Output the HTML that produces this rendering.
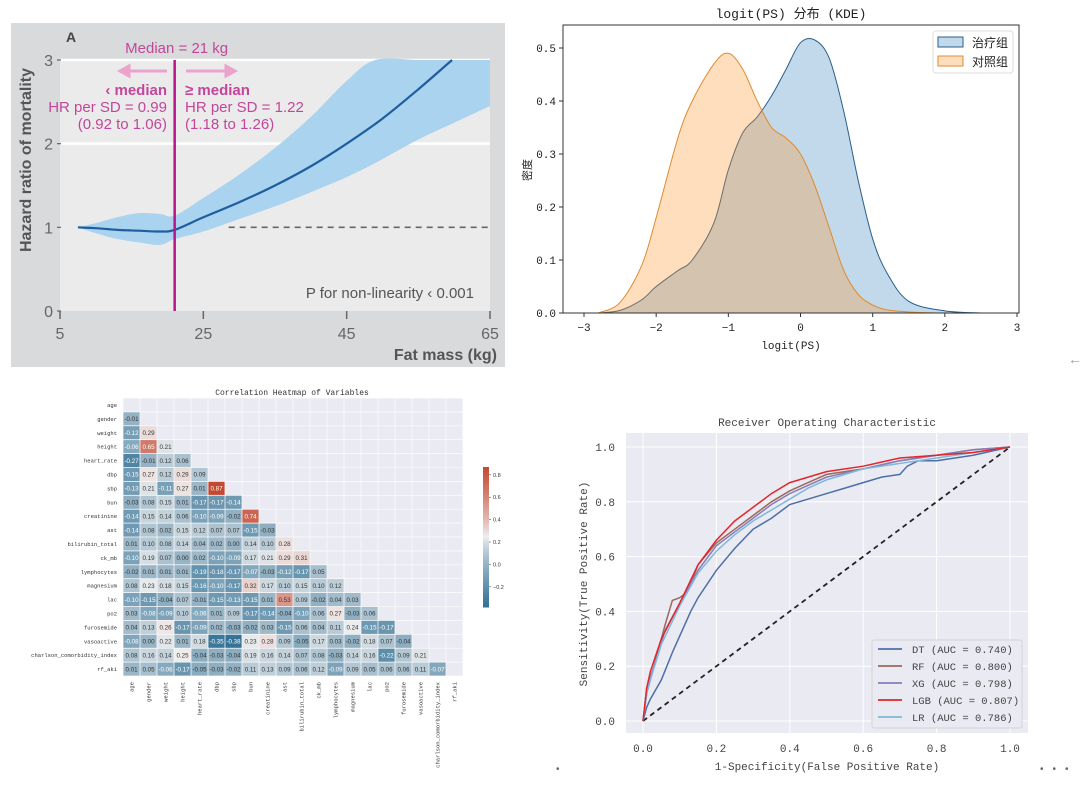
<!DOCTYPE html>
<html><head><meta charset="utf-8"><style>
body{margin:0;background:#fff;}
svg{display:block;font-family:"Liberation Sans","Noto Sans CJK SC",sans-serif;}
</style></head><body>
<svg id="root" width="1080" height="788" viewBox="0 0 1080 788">
<rect width="1080" height="788" fill="#fff"/>
<g id="pA"></g>
<g id="pB"></g>
<g id="pC"></g>
<g id="pD"></g>
<text x="1068" y="364" font-size="14" fill="#999">←</text>
<text x="556" y="772" font-size="10" fill="#666">•</text>
<text x="1040" y="772" font-size="10" fill="#666" letter-spacing="9">•••</text>
</svg>
<script>
// ---------- Panel A data ----------
const fatX = [7.5, 10, 13, 16, 19, 21, 25, 30, 35, 40, 45, 50, 55, 59.7];
const fatHR = [1.0, 0.99, 0.97, 0.96, 0.95, 0.97, 1.12, 1.3, 1.5, 1.73, 2.0, 2.3, 2.65, 3.0];
const ciX = [7.5, 10, 13, 16, 19, 21, 25, 30, 35, 40, 45, 49, 55, 60, 65];
const ciUpper = [1.0, 1.05, 1.12, 1.17, 1.16, 1.14, 1.35, 1.63, 1.95, 2.32, 2.75, 3.0, 3.0, 3.0, 3.0];
const ciLower = [1.0, 0.93, 0.86, 0.82, 0.79, 0.86, 0.95, 1.1, 1.25, 1.42, 1.6, 1.77, 2.05, 2.25, 2.45];
const aXTicks = [5, 25, 45, 65];
const aYTicks = [0, 1, 2, 3];

// ---------- KDE data ----------
const kdeX = [-2.8,-2.5,-2.2,-2.0,-1.7,-1.5,-1.2,-1.0,-0.8,-0.6,-0.4,-0.2,0.0,0.2,0.4,0.6,0.8,1.0,1.2,1.5,2.0,2.5];
const treatY = [0,0.005,0.025,0.05,0.08,0.1,0.17,0.27,0.34,0.37,0.41,0.46,0.51,0.515,0.48,0.38,0.25,0.14,0.075,0.022,0.004,0];
const ctrlY = [0,0.02,0.09,0.18,0.33,0.4,0.47,0.49,0.46,0.4,0.35,0.33,0.3,0.24,0.16,0.08,0.035,0.015,0.006,0.002,0,0];
const kdeXTicks = [-3,-2,-1,0,1,2,3];
const kdeYTicks = [0,0.1,0.2,0.3,0.4,0.5];

// ---------- Heatmap data ----------
const vars = ["age","gender","weight","height","heart_rate","dbp","sbp","bun","creatinine","ast","bilirubin_total","ck_mb","lymphocytes","magnesium","lac","po2","furosemide","vasoactive","charlson_comorbidity_index","rf_aki"];
const corr = [
[],
[-0.01],
[-0.12,0.29],
[-0.06,0.65,0.21],
[-0.27,-0.01,0.12,0.06],
[-0.15,0.27,0.12,0.29,0.09],
[-0.13,0.21,-0.11,0.27,0.01,0.87],
[-0.03,0.08,0.15,0.01,-0.17,-0.17,-0.14],
[-0.14,0.15,0.14,0.06,-0.10,-0.09,-0.02,0.74],
[-0.14,0.08,0.02,0.15,0.12,0.07,0.07,-0.15,-0.03],
[0.01,0.10,0.08,0.14,0.04,0.02,0.00,0.14,0.10,0.28],
[-0.10,0.19,0.07,-0.00,0.02,-0.10,-0.09,0.17,0.21,0.29,0.31],
[-0.02,0.01,0.01,0.01,-0.19,-0.18,-0.17,-0.07,-0.03,-0.12,-0.17,0.05],
[0.08,0.23,0.18,0.15,-0.16,-0.10,-0.17,0.32,0.17,0.10,0.15,0.10,0.12],
[-0.10,-0.15,-0.04,0.07,-0.01,-0.15,-0.13,-0.15,0.01,0.53,0.09,-0.02,0.04,0.03],
[0.03,-0.08,-0.09,0.10,-0.06,0.01,0.09,-0.17,-0.14,-0.04,-0.10,0.06,0.27,-0.03,0.06],
[0.04,0.13,0.26,-0.17,-0.09,0.02,-0.03,-0.02,0.03,-0.15,0.06,0.04,0.11,0.24,-0.15,-0.17],
[-0.08,0.00,0.22,0.01,0.18,-0.35,-0.38,0.23,0.28,0.09,-0.05,0.17,0.03,-0.02,0.18,0.07,-0.04],
[0.08,0.16,0.14,0.25,-0.04,-0.03,-0.04,0.19,0.16,0.14,0.07,0.08,-0.03,0.14,0.16,-0.22,0.09,0.21],
[0.01,0.05,-0.06,-0.17,-0.05,-0.03,-0.02,0.11,0.13,0.09,0.06,0.12,-0.09,0.09,0.05,0.06,0.06,0.11,-0.07]
];
const cbTicks = [0.8,0.6,0.4,0.2,0.0,-0.2];

// ---------- ROC data ----------
const rocNames = ["DT","RF","XG","LGB","LR"];
const rocAUC = ["0.740","0.800","0.798","0.807","0.786"];
const dtFPR = [0,0.01,0.02,0.05,0.08,0.1,0.13,0.15,0.2,0.25,0.3,0.35,0.4,0.45,0.5,0.55,0.6,0.65,0.7,0.72,0.75,0.8,0.9,1];
const dtTPR = [0,0.05,0.08,0.15,0.25,0.31,0.4,0.45,0.55,0.63,0.7,0.74,0.79,0.81,0.83,0.85,0.87,0.89,0.9,0.93,0.95,0.95,0.97,1];
const rfFPR = [0,0.01,0.02,0.03,0.06,0.08,0.1,0.12,0.15,0.2,0.25,0.3,0.35,0.4,0.45,0.5,0.6,0.7,0.8,0.9,1];
const rfTPR = [0,0.1,0.15,0.2,0.35,0.44,0.45,0.47,0.57,0.65,0.7,0.75,0.8,0.84,0.87,0.9,0.92,0.95,0.97,0.99,1];
const xgFPR = [0,0.01,0.03,0.06,0.1,0.15,0.2,0.25,0.3,0.35,0.4,0.45,0.5,0.6,0.7,0.8,0.9,1];
const xgTPR = [0,0.12,0.2,0.33,0.43,0.55,0.64,0.69,0.74,0.79,0.83,0.86,0.89,0.92,0.95,0.97,0.99,1];
const lgbFPR = [0,0.01,0.02,0.05,0.1,0.15,0.2,0.25,0.3,0.35,0.4,0.45,0.5,0.6,0.7,0.8,0.9,1];
const lgbTPR = [0,0.12,0.18,0.3,0.43,0.57,0.66,0.73,0.78,0.83,0.87,0.89,0.91,0.93,0.96,0.97,0.98,1];
const lrFPR = [0,0.01,0.02,0.05,0.1,0.15,0.2,0.25,0.3,0.35,0.4,0.45,0.5,0.6,0.7,0.8,0.9,1];
const lrTPR = [0,0.1,0.15,0.28,0.42,0.54,0.62,0.68,0.73,0.77,0.81,0.85,0.88,0.92,0.94,0.96,0.98,1];
const rocTicks = [0,0.2,0.4,0.6,0.8,1.0];

const NS="http://www.w3.org/2000/svg";
function mk(parent, tag, attrs, text){
  const e=document.createElementNS(NS,tag);
  for(const k in attrs) e.setAttribute(k,attrs[k]);
  if(text!==undefined) e.textContent=text;
  parent.appendChild(e); return e;
}
// Catmull-Rom smooth path through points (no leading M)
function smooth(pts){
  let d='';
  for(let i=0;i<pts.length-1;i++){
    const p0=pts[Math.max(0,i-1)],p1=pts[i],p2=pts[i+1],p3=pts[Math.min(pts.length-1,i+2)];
    const c1=[p1[0]+(p2[0]-p0[0])/6,p1[1]+(p2[1]-p0[1])/6];
    const c2=[p2[0]-(p3[0]-p1[0])/6,p2[1]-(p3[1]-p1[1])/6];
    d+=' C'+c1[0]+','+c1[1]+' '+c2[0]+','+c2[1]+' '+p2[0]+','+p2[1];
  }
  return d;
}

// ================= Panel A =================
(function(){
  const g=document.getElementById('pA');
  const X0=60,X1=490,Y0=311,Y1=60;
  const sx=v=>X0+(v-5)/60*(X1-X0);
  const sy=v=>Y0-(v/3)*(Y0-Y1);
  let e=mk(g,'rect',{x:11,y:23,width:494,height:344,fill:'#d9dadb'});
   
  e=mk(g,'rect',{x:X0,y:Y1,width:X1-X0,height:Y0-Y1,fill:'#ebebeb'});
   
  aYTicks.forEach(t=>{
    if(t>=2){ e=mk(g,'line',{x1:X0,x2:X1,y1:sy(t),y2:sy(t),stroke:'#fff','stroke-width':2.5});
       }
    e=mk(g,'text',{x:X0-7,y:sy(t)+6,'font-size':16,fill:'#666','text-anchor':'end'},String(t));
     
    mk(g,'line',{x1:X0-3,x2:X0+1,y1:sy(t),y2:sy(t),stroke:'#666','stroke-width':1.2});
  });
  aXTicks.forEach(t=>{
    e=mk(g,'line',{x1:sx(t),x2:sx(t),y1:Y0,y2:Y0+8,stroke:'#666','stroke-width':1.5});
     
    e=mk(g,'text',{x:sx(t),y:Y0+28,'font-size':16,fill:'#666','text-anchor':'middle'},String(t));
     
  });
  const up=ciX.map((x,i)=>[sx(x),sy(ciUpper[i])]);
  const lo=ciX.map((x,i)=>[sx(x),sy(ciLower[i])]).reverse();
  let d='M'+up[0]+smooth(up)+' L'+lo[0]+smooth(lo)+'Z';
  e=mk(g,'path',{d:d,fill:'#a9d3ef'});
   
  e=mk(g,'line',{x1:sx(21)+54,x2:X1,y1:sy(1),y2:sy(1),stroke:'#666','stroke-width':1.6,'stroke-dasharray':'6,5'});
   
  const hp=fatX.map((x,i)=>[sx(x),sy(fatHR[i])]);
  e=mk(g,'path',{d:'M'+hp[0]+smooth(hp),fill:'none',stroke:'#1f5e9e','stroke-width':2.2});
   
  e=mk(g,'line',{x1:sx(21),x2:sx(21),y1:Y1,y2:Y0,stroke:'#b5178a','stroke-width':2.5});
   
  const pink='#c2469a', lp='#eba3cb';
  e=mk(g,'text',{x:66,y:42,'font-size':14,'font-weight':'bold',fill:'#444'},'A');
   
  e=mk(g,'text',{x:sx(21)+2,y:53,'font-size':15,fill:pink,'text-anchor':'middle'},'Median = 21 kg');
   
  e=mk(g,'path',{d:'M167,71 L120,71 M120,71 l9,-5 v10 z M186,71 L235,71 M235,71 l-9,-5 v10 z',stroke:lp,'stroke-width':3,fill:lp});
   
  const L=[['‹ median','bold'],['HR per SD = 0.99','normal'],['(0.92 to 1.06)','normal']];
  const R=[['≥ median','bold'],['HR per SD = 1.22','normal'],['(1.18 to 1.26)','normal']];
  L.forEach((l,i)=>{e=mk(g,'text',{x:167,y:95+i*17,'font-size':15,'font-weight':l[1],fill:pink,'text-anchor':'end'},l[0]);
     });
  R.forEach((l,i)=>{e=mk(g,'text',{x:185,y:95+i*17,'font-size':15,'font-weight':l[1],fill:pink},l[0]);
     });
  e=mk(g,'text',{x:474,y:298,'font-size':15,fill:'#555','text-anchor':'end'},'P for non-linearity ‹ 0.001');
   
  e=mk(g,'text',{x:497,y:360,'font-size':16,'font-weight':'bold',fill:'#555','text-anchor':'end'},'Fat mass (kg)');
   
  e=mk(g,'text',{x:0,y:0,'font-size':16,'font-weight':'bold',fill:'#555','text-anchor':'middle',transform:'translate(31,160) rotate(-90)'},'Hazard ratio of mortality');
   
})();

// ================= KDE =================
(function(){
  const g=document.getElementById('pB');
  const L=563,R=1019,T=25,B=313;
  const sx=v=>584+(v+3)*(1017-584)/6;
  const sy=v=>B-v*(B-48)/0.5;
  let e=mk(g,'text',{x:791,y:18,'font-size':13,fill:'#222','text-anchor':'middle','font-family':'"Liberation Mono","Noto Sans CJK SC",monospace'},'logit(PS) 分布 (KDE)');
   
  const area=(ys)=>{const p=kdeX.map((x,i)=>[sx(x),sy(ys[i])]);return 'M'+p[0]+smooth(p)+' Z';};
  e=mk(g,'path',{d:area(treatY),fill:'rgba(31,119,180,0.28)',stroke:'#2a5f8a','stroke-width':1,'stroke-linejoin':'round'});
   
  e=mk(g,'path',{d:area(ctrlY),fill:'rgba(255,147,40,0.30)',stroke:'#e08a2c','stroke-width':1,'stroke-linejoin':'round'});
   
  e=mk(g,'rect',{x:L,y:T,width:R-L,height:B-T,fill:'none',stroke:'#333','stroke-width':1});
   
  kdeXTicks.forEach(t=>{mk(g,'line',{x1:sx(t),x2:sx(t),y1:B,y2:B+4,stroke:'#333'});
    e=mk(g,'text',{x:sx(t),y:B+18,'font-size':11,fill:'#222','text-anchor':'middle','font-family':'"Liberation Mono",monospace'},t<0?'−'+(-t):String(t));
     });
  kdeYTicks.forEach(t=>{mk(g,'line',{x1:L-4,x2:L,y1:sy(t),y2:sy(t),stroke:'#333'});
    e=mk(g,'text',{x:L-7,y:sy(t)+4,'font-size':11,fill:'#222','text-anchor':'end','font-family':'"Liberation Mono",monospace'},t.toFixed(1));
     });
  e=mk(g,'text',{x:791,y:349,'font-size':11,fill:'#222','text-anchor':'middle','font-family':'"Liberation Mono",monospace'},'logit(PS)');
   
  e=mk(g,'text',{x:0,y:0,'font-size':11,fill:'#222','text-anchor':'middle',transform:'translate(531,170) rotate(-90)','font-family':'"Noto Sans CJK SC",sans-serif'},'密度');
   
  e=mk(g,'rect',{x:933,y:31,width:80,height:42,fill:'#fff',stroke:'#ddd',rx:3});
   
  [['治疗组','rgba(31,119,180,0.28)','#2a5f8a'],['对照组','rgba(255,147,40,0.30)','#e08a2c']].forEach((l,i)=>{
    mk(g,'rect',{x:938,y:37+i*19,width:25,height:10,fill:l[1],stroke:l[2]});
    e=mk(g,'text',{x:972,y:47+i*19,'font-size':12,fill:'#222','font-family':'"Noto Sans CJK SC",sans-serif'},l[0]);
     });
})();

// ================= Heatmap =================
(function(){
  const g=document.getElementById('pC');
  const X0=123,Y0=398,W=17,H=13.9,n=vars.length;
  const c=0.245,vmin=-0.38,vmax=0.87;
  const neg=[52,114,150],pos=[196,72,48],wh=[240,240,240];
  const col=v=>{let t,tgt; if(v<c){t=(c-v)/(c-vmin);tgt=neg;}else{t=(v-c)/(vmax-c);tgt=pos;}
    t=Math.pow(t,0.8);return {s:'rgb('+wh.map((w,i)=>Math.round(w+(tgt[i]-w)*t)).join(',')+')',t:t};};
  let e=mk(g,'text',{x:292,y:395,'font-size':8,fill:'#333','text-anchor':'middle','font-family':'"Liberation Mono",monospace'},'Correlation Heatmap of Variables');
   
  e=mk(g,'rect',{x:X0,y:Y0,width:W*n,height:H*n,fill:'#eaeaf2'});
   
  for(let i=0;i<=n;i++){mk(g,'line',{x1:X0+i*W,x2:X0+i*W,y1:Y0,y2:Y0+H*n,stroke:'#fff','stroke-width':0.6});
    mk(g,'line',{x1:X0,x2:X0+W*n,y1:Y0+i*H,y2:Y0+i*H,stroke:'#fff','stroke-width':0.6});}
  corr.forEach((row,r)=>row.forEach((v,cI)=>{
    const k=col(v);
    e=mk(g,'rect',{x:X0+cI*W+0.4,y:Y0+r*H+0.4,width:W-0.8,height:H-0.8,fill:k.s});
     
    e=mk(g,'text',{x:X0+cI*W+W/2,y:Y0+r*H+H/2+2.2,'font-size':6.2,fill:k.t>0.55?'#fff':'#333','text-anchor':'middle'},v.toFixed(2));
     
  }));
  vars.forEach((v,i)=>{
    e=mk(g,'text',{x:X0-6,y:Y0+i*H+H/2+2,'font-size':5.5,fill:'#333','text-anchor':'end','font-family':'"Liberation Mono",monospace'},v);
     
    e=mk(g,'text',{x:0,y:0,'font-size':5.5,fill:'#333','text-anchor':'end','font-family':'"Liberation Mono",monospace',transform:'translate('+(X0+i*W+W/2+2)+','+(Y0+H*n+6)+') rotate(-90)'},v);
     
  });
  const cy0=467,cy1=607;
  const cv=v=>cy1-(v-vmin)/(vmax-vmin)*(cy1-cy0);
  for(let k=0;k<70;k++){const v=vmin+(vmax-vmin)*k/70;
    mk(g,'rect',{x:483,y:cv(v+(vmax-vmin)/70),width:6,height:(cy1-cy0)/70+0.5,fill:col(v).s});}
  e=mk(g,'rect',{x:483,y:cy0,width:6,height:cy1-cy0,fill:'none',stroke:'none'});
   
  cbTicks.forEach(t=>{mk(g,'line',{x1:489,x2:491,y1:cv(t),y2:cv(t),stroke:'#333','stroke-width':0.5});
    e=mk(g,'text',{x:493,y:cv(t)+2,'font-size':5.5,fill:'#333'},t<0?'−'+(-t).toFixed(1):t.toFixed(1));
     });
})();

// ================= ROC =================
(function(){
  const g=document.getElementById('pD');
  const sx=v=>643+v*(1010-643), sy=v=>721-v*(721-447);
  const mono='"Liberation Mono",monospace';
  let e=mk(g,'rect',{x:626,y:433,width:402,height:300,fill:'#eaeaf2'});
   
  rocTicks.forEach(t=>{
    mk(g,'line',{x1:sx(t),x2:sx(t),y1:433,y2:733,stroke:'#fff','stroke-width':1});
    mk(g,'line',{x1:626,x2:1028,y1:sy(t),y2:sy(t),stroke:'#fff','stroke-width':1});
    e=mk(g,'text',{x:sx(t),y:752,'font-size':11,fill:'#444','text-anchor':'middle','font-family':mono},t.toFixed(1));
     
    e=mk(g,'text',{x:615,y:sy(t)+4,'font-size':11,fill:'#444','text-anchor':'end','font-family':mono},t.toFixed(1));
     
  });
  e=mk(g,'text',{x:827,y:426,'font-size':11,fill:'#444','text-anchor':'middle','font-family':mono},'Receiver Operating Characteristic');
   
  e=mk(g,'text',{x:827,y:770,'font-size':11,fill:'#444','text-anchor':'middle','font-family':mono},'1-Specificity(False Positive Rate)');
   
  e=mk(g,'text',{x:0,y:0,'font-size':11,fill:'#444','text-anchor':'middle','font-family':mono,transform:'translate(587,584) rotate(-90)'},'Sensitivity(True Positive Rate)');
   
  e=mk(g,'line',{x1:sx(0),y1:sy(0),x2:sx(1),y2:sy(1),stroke:'#222','stroke-width':1.8,'stroke-dasharray':'5,4'});
   
  const series=[[dtFPR,dtTPR,'#4c6fa8'],[rfFPR,rfTPR,'#9a6a5c'],[xgFPR,xgTPR,'#8a7bb8'],[lrFPR,lrTPR,'#7fb8d8'],[lgbFPR,lgbTPR,'#e3262b']];
  const names=['roc-dt','roc-rf','roc-xg','roc-lr','roc-lgb'];
  series.forEach((s,k)=>{
    e=mk(g,'polyline',{points:s[0].map((x,i)=>sx(x)+','+sy(s[1][i])).join(' '),fill:'none',stroke:s[2],'stroke-width':1.5});
     
  });
  e=mk(g,'rect',{x:872,y:640,width:150,height:88,fill:'#eaeaf2',stroke:'#ccc','stroke-width':0.8,rx:2});
   
  const lc=['#4c6fa8','#9a6a5c','#8a7bb8','#e3262b','#7fb8d8'];
  rocNames.forEach((nm,i)=>{
    const y=649+i*17;
    mk(g,'line',{x1:878,x2:902,y1:y,y2:y,stroke:lc[i],'stroke-width':1.8});
    e=mk(g,'text',{x:912,y:y+4,'font-size':10.5,fill:'#444','font-family':mono,'xml:space':'preserve'},nm+' (AUC = '+rocAUC[i]+')');
     
  });
})();
</script>
</body></html>
